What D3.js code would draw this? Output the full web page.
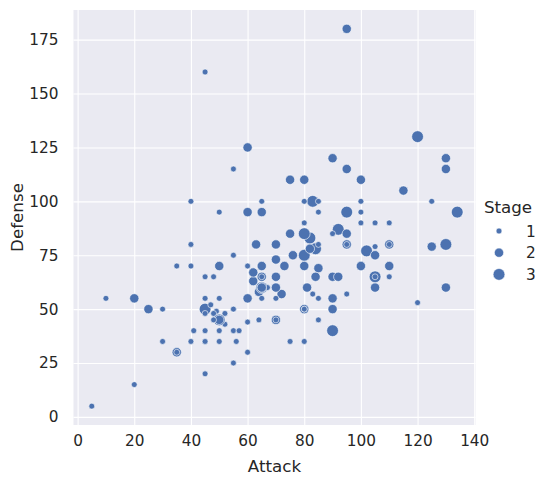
<!DOCTYPE html>
<html>
<head>
<meta charset="utf-8">
<script src="https://cdn.jsdelivr.net/npm/d3@7"></script>
<style>
  html, body { margin: 0; padding: 0; background: #fff; }
  svg { display: block; font-family: "DejaVu Sans", sans-serif; }
</style>
</head>
<body>
<div id="chart"></div>
<script>
// Gen 1 pokemon, in dataset order (draw order matters for overlaps)
const attack = [
  49, 62, 82, 52, 64, 84, 48, 63, 83, 30, 20, 45, 35, 25, 90, 45, 60, 80, 56, 81,
  60, 90, 60, 85, 55, 90, 75, 100, 47, 62, 92, 57, 72, 102, 45, 70, 41, 76, 45, 70,
  45, 80, 50, 65, 80, 70, 95, 55, 65, 55, 80, 45, 70, 52, 82, 80, 105, 70, 110, 50,
  65, 95, 20, 35, 50, 80, 100, 130, 75, 90, 105, 40, 70, 80, 95, 120, 85, 100, 65, 75,
  35, 60, 65, 85, 110, 45, 70, 80, 105, 65, 95, 35, 50, 65, 45, 48, 73, 105, 130, 30,
  50, 40, 95, 50, 80, 120, 105, 55, 65, 90, 85, 130, 5, 55, 95, 40, 65, 67, 92, 45,
  75, 45, 110, 50, 83, 95, 125, 100, 10, 125, 85, 48, 55, 65, 65, 130, 60, 40, 60, 80,
  115, 105, 110, 85, 90, 100, 64, 84, 134, 110, 100
]
const defense = [
  49, 63, 83, 43, 58, 78, 65, 80, 100, 35, 55, 50, 30, 50, 40, 40, 55, 75, 35, 60,
  30, 65, 44, 69, 40, 55, 85, 110, 52, 67, 87, 40, 57, 77, 48, 73, 40, 75, 20, 45,
  35, 70, 55, 70, 85, 55, 80, 50, 60, 25, 50, 35, 60, 48, 78, 35, 60, 45, 80, 40,
  65, 95, 15, 30, 45, 50, 70, 80, 35, 50, 65, 35, 65, 100, 115, 130, 55, 70, 65, 110,
  70, 95, 55, 45, 70, 55, 80, 50, 75, 100, 180, 30, 45, 60, 160, 45, 70, 90, 115, 50,
  70, 80, 85, 95, 110, 53, 79, 75, 95, 120, 95, 120, 5, 115, 80, 70, 95, 60, 65, 55,
  85, 65, 80, 35, 57, 57, 100, 95, 55, 79, 80, 48, 50, 60, 60, 60, 70, 100, 125, 90,
  105, 65, 65, 100, 85, 90, 45, 65, 95, 90, 100
]
const stage = [
  1, 2, 3, 1, 2, 3, 1, 2, 3, 1, 2, 3, 1, 2, 3, 1, 2, 3, 1, 2,
  1, 2, 1, 2, 1, 2, 1, 2, 1, 2, 3, 1, 2, 3, 1, 2, 1, 2, 1, 2,
  1, 2, 1, 2, 3, 1, 2, 1, 2, 1, 2, 1, 2, 1, 2, 1, 2, 1, 2, 1,
  2, 3, 1, 2, 3, 1, 2, 3, 1, 2, 3, 1, 2, 1, 2, 3, 1, 2, 1, 2,
  1, 2, 1, 1, 2, 1, 2, 1, 2, 1, 2, 1, 2, 3, 1, 1, 2, 1, 2, 1,
  2, 1, 2, 1, 2, 1, 1, 1, 1, 2, 1, 2, 1, 1, 1, 1, 2, 1, 2, 1,
  2, 1, 1, 1, 1, 1, 1, 1, 1, 2, 1, 1, 1, 2, 2, 2, 1, 1, 2, 1,
  2, 1, 1, 1, 1, 1, 1, 2, 3, 1, 1
]
const stages = [1, 2, 3]
const xTicks = [0, 20, 40, 60, 80, 100, 120, 140]
const yTicks = [0, 25, 50, 75, 100, 125, 150, 175]

const width = 548
const height = 484
const plot = { left: 73.5, right: 475.5, top: 10, bottom: 425 }
const colors = {
  background: "#eaeaf2",
  point: "#4c72b0",
  text: "#262626"
}

const points = attack.map((a, i) => ({ attack: a, defense: defense[i], stage: stage[i] }))

const svg = d3.select("#chart")
  .append("svg")
  .attr("width", width)
  .attr("height", height)

// Scales (5% margins like matplotlib autoscale)
const xPad = (d3.max(attack) - d3.min(attack)) * 0.05
const yPad = (d3.max(defense) - d3.min(defense)) * 0.05

const x = d3.scaleLinear()
  .domain([d3.min(attack) - xPad, d3.max(attack) + xPad])
  .range([plot.left, plot.right])

const y = d3.scaleLinear()
  .domain([d3.min(defense) - yPad, d3.max(defense) + yPad])
  .range([plot.bottom, plot.top])

const r = d3.scaleOrdinal()
  .domain(stages)
  .range([2.95, 4.65, 5.9])

// Background
svg.append("rect")
  .attr("x", plot.left)
  .attr("y", plot.top)
  .attr("width", plot.right - plot.left)
  .attr("height", plot.bottom - plot.top)
  .attr("fill", colors.background)

// Grid via axes
const xGrid = svg.append("g")
  .attr("transform", `translate(0,${plot.bottom})`)
  .call(d3.axisBottom(x).tickValues(xTicks).tickSize(-(plot.bottom - plot.top)).tickPadding(10))
xGrid.select(".domain").remove()
xGrid.selectAll(".tick line").attr("stroke", "#fff").attr("stroke-width", 1.1)
xGrid.selectAll(".tick text")
  .attr("fill", colors.text)
  .attr("font-size", "15.3px")
  .attr("font-family", "DejaVu Sans, sans-serif")

const yGrid = svg.append("g")
  .attr("transform", `translate(${plot.left},0)`)
  .call(d3.axisLeft(y).tickValues(yTicks).tickSize(-(plot.right - plot.left)).tickPadding(15))
yGrid.select(".domain").remove()
yGrid.selectAll(".tick line").attr("stroke", "#fff").attr("stroke-width", 1.1)
yGrid.selectAll(".tick text")
  .attr("fill", colors.text)
  .attr("font-size", "15.3px")
  .attr("font-family", "DejaVu Sans, sans-serif")

// Points
svg.append("g")
  .selectAll("circle")
  .data(points)
  .join("circle")
  .attr("cx", d => x(d.attack))
  .attr("cy", d => y(d.defense))
  .attr("r", d => r(d.stage))
  .attr("fill", colors.point)
  .attr("stroke", "#fff")
  .attr("stroke-width", 0.6)

// Axis labels
svg.append("text")
  .attr("x", (plot.left + plot.right) / 2)
  .attr("y", 472)
  .attr("text-anchor", "middle")
  .attr("font-size", "16.7px")
  .attr("fill", colors.text)
  .text("Attack")

svg.append("text")
  .attr("transform", `translate(23,${(plot.top + plot.bottom) / 2}) rotate(-90)`)
  .attr("text-anchor", "middle")
  .attr("font-size", "16.7px")
  .attr("fill", colors.text)
  .text("Defense")

// Legend
const legend = svg.append("g")
  .attr("transform", "translate(0,0)")

legend.append("text")
  .attr("x", 508)
  .attr("y", 213)
  .attr("text-anchor", "middle")
  .attr("font-size", "16.7px")
  .attr("fill", colors.text)
  .text("Stage")

const legendItems = legend.selectAll(".item")
  .data(stages)
  .join("g")
  .attr("class", "item")
  .attr("transform", (d, i) => `translate(0,${231 + i * 21.7})`)

legendItems.append("circle")
  .attr("cx", 499)
  .attr("cy", 0)
  .attr("r", d => r(d))
  .attr("fill", colors.point)
  .attr("stroke", "#fff")
  .attr("stroke-width", 0.6)

legendItems.append("text")
  .attr("x", 526)
  .attr("y", 5.5)
  .attr("font-size", "15.3px")
  .attr("fill", colors.text)
  .text(d => d)
</script>
</body>
</html>
